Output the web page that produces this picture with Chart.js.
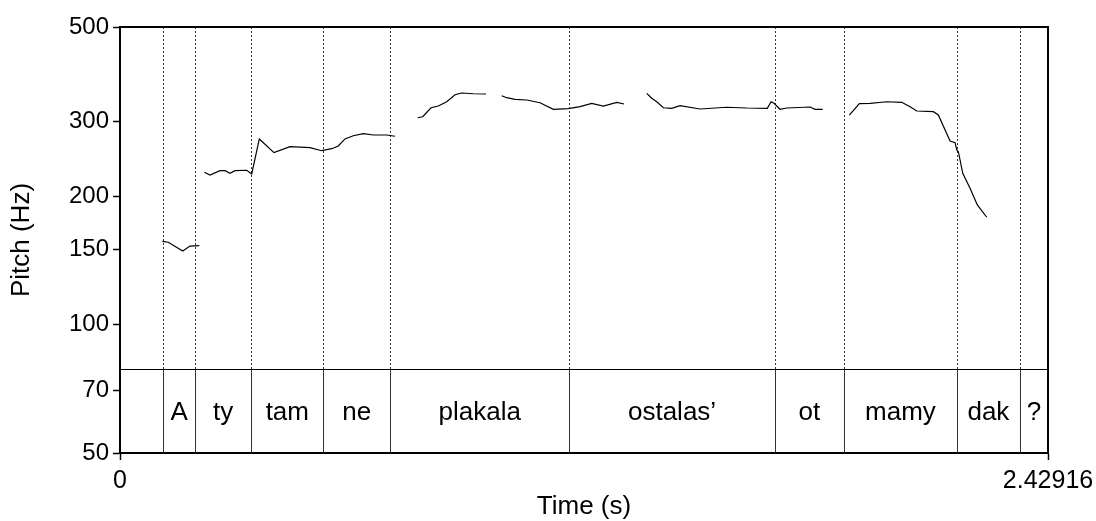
<!DOCTYPE html>
<html><head><meta charset="utf-8">
<script src="https://cdn.jsdelivr.net/npm/chart.js@4.4.1/dist/chart.umd.min.js"></script>
<style>html,body{margin:0;padding:0;background:#fff;overflow:hidden}</style>
</head><body>
<canvas id="c" width="1096" height="521"></canvas>
<script>
// ---- data ----
const X_MAX = 2.42916;
const yTicks = [50, 70, 100, 150, 200, 300, 500];
const xTicks = [0, 2.42916];
const boundaries = [0.1134, 0.1963, 0.3437, 0.5322, 0.7068, 1.1762, 1.7139, 1.8953, 2.1903, 2.3560];
const words = ['', 'A', 'ty', 'tam', 'ne', 'plakala', 'ostalas’', 'ot', 'mamy', 'dak', '?'];

const c1Time = [0.1107, 0.1264, 0.1641, 0.1832, 0.2076];
const c1Hz   = [157.0, 156.2, 149.0, 153.0, 153.3];
const c2Time = [0.2207, 0.2356, 0.2618, 0.2749, 0.2880, 0.3010, 0.3317, 0.3448, 0.3647, 0.4031, 0.4450, 0.4974, 0.5280, 0.5542, 0.5715, 0.5890, 0.6107, 0.6369, 0.6631, 0.6982, 0.7199];
const c2Hz   = [228.0, 224.7, 230.0, 230.0, 226.7, 230.0, 230.5, 225.9, 273.0, 253.5, 261.8, 260.4, 256.2, 259.0, 262.8, 273.0, 277.8, 280.9, 278.9, 278.9, 277.0];
const c3Time = [0.7793, 0.7924, 0.8141, 0.8332, 0.8552, 0.8770, 0.8945, 0.9249, 0.9581];
const c3Hz   = [306.2, 307.8, 323.2, 326.2, 333.8, 346.8, 350.0, 348.6, 348.1];
const c4Time = [0.9992, 1.0123, 1.0340, 1.0647, 1.0995, 1.1343, 1.1736, 1.2042, 1.2348, 1.2652, 1.3003, 1.3194];
const c4Hz   = [344.9, 341.2, 338.2, 337.0, 332.1, 320.5, 321.5, 325.0, 331.0, 326.2, 332.8, 329.8];
const c5Time = [1.3788, 1.3919, 1.4050, 1.4223, 1.4442, 1.4660, 1.5183, 1.5882, 1.6406, 1.6945, 1.7042, 1.7120, 1.7277, 1.7453, 1.8063, 1.8194, 1.8395];
const c5Hz   = [349.4, 340.1, 333.8, 323.2, 322.2, 326.7, 321.0, 324.0, 322.7, 322.2, 333.8, 331.0, 320.5, 322.7, 324.5, 320.5, 320.5];
const c6Time = [1.9092, 1.9353, 1.9634, 2.0071, 2.0463, 2.0681, 2.0856, 2.1291, 2.1421, 2.1728, 2.1859, 2.1903, 2.1945, 2.2060, 2.2251, 2.2442, 2.2688];
const c6Hz   = [310.7, 330.4, 331.0, 333.8, 332.8, 325.0, 317.5, 316.4, 310.7, 270.0, 267.5, 257.2, 254.8, 226.7, 209.1, 191.1, 178.8];

const contours = [[c1Time, c1Hz], [c2Time, c2Hz], [c3Time, c3Hz], [c4Time, c4Hz], [c5Time, c5Hz], [c6Time, c6Hz]];

// ---- style ----
const FONT = '"Liberation Sans", Arial, Helvetica, sans-serif';
const TIER_FRAC = 84 / 426;

const datasets = contours.map(([t, h]) => ({
  data: t.map((v, i) => ({x: v, y: h[i]})),
  borderColor: '#000', borderWidth: 1.2, pointRadius: 0, tension: 0, fill: false
}));

const praatPlugin = {
  id: 'praat',
  beforeDatasetsDraw(chart) {
    const {ctx, chartArea: a, scales: {x}} = chart;
    const tierTop = Math.round(a.bottom - TIER_FRAC * (a.bottom - a.top)) + 0.5;
    ctx.save();
    ctx.lineWidth = 1;
    ctx.strokeStyle = '#333';
    ctx.setLineDash([2, 2]);
    boundaries.forEach(b => {
      const px = Math.round(x.getPixelForValue(b)) + 0.5;
      ctx.beginPath(); ctx.moveTo(px, a.top); ctx.lineTo(px, tierTop); ctx.stroke();
    });
    ctx.setLineDash([]);
    ctx.strokeStyle = '#000';
    ctx.beginPath(); ctx.moveTo(a.left, tierTop); ctx.lineTo(a.right, tierTop); ctx.stroke();
    ctx.strokeStyle = '#333';
    boundaries.forEach(b => {
      const px = Math.round(x.getPixelForValue(b)) + 0.5;
      ctx.beginPath(); ctx.moveTo(px, tierTop); ctx.lineTo(px, a.bottom); ctx.stroke();
    });
    ctx.fillStyle = '#000';
    ctx.font = '26px ' + FONT;
    ctx.textAlign = 'center';
    ctx.textBaseline = 'alphabetic';
    const edges = [0, ...boundaries, X_MAX];
    const midY = (tierTop + a.bottom) / 2;
    words.forEach((w, i) => {
      if (!w) return;
      const cx = (x.getPixelForValue(edges[i]) + x.getPixelForValue(edges[i + 1])) / 2;
      ctx.fillText(w, cx, midY + 9);
    });
    ctx.restore();
  },
  afterDraw(chart) {
    const {ctx, chartArea: a} = chart;
    ctx.save();
    ctx.strokeStyle = '#000';
    ctx.lineWidth = 2;
    ctx.beginPath();
    ctx.moveTo(a.left - 1, a.top); ctx.lineTo(a.right, a.top); ctx.lineTo(a.right, a.bottom + 1);
    ctx.stroke();
    ctx.restore();
  }
};

new Chart(document.getElementById('c'), {
  type: 'line',
  data: {datasets},
  plugins: [praatPlugin],
  options: {
    responsive: false, animation: false, devicePixelRatio: 1,
    layout: {padding: {top: 27, right: 48, left: 0, bottom: 0}},
    plugins: {legend: {display: false}, tooltip: {enabled: false}},
    scales: {
      x: {
        type: 'linear', min: 0, max: X_MAX,
        afterBuildTicks: s => { s.ticks = xTicks.map(v => ({value: v})); },
        afterFit: s => { s.height = 68; s.paddingLeft = 0; s.paddingRight = 0; },
        ticks: {autoSkip: false, maxRotation: 0, color: '#000', padding: 6,
          font: {size: 25, family: FONT}, callback: v => String(v)},
        grid: {drawOnChartArea: false, drawTicks: true, tickLength: 7, tickColor: '#000', tickWidth: 1.5},
        border: {display: true, color: '#000', width: 2},
        title: {display: true, text: 'Time (s)', color: '#000', font: {size: 26, family: FONT, lineHeight: 1.1}, padding: {top: 0, bottom: 0}}
      },
      y: {
        type: 'logarithmic', min: 50, max: 500,
        afterBuildTicks: s => { s.ticks = yTicks.map(v => ({value: v})); },
        afterFit: s => { s.width = 120; s.paddingTop = 0; s.paddingBottom = 0; },
        ticks: {autoSkip: false, color: '#000', padding: 4,
          font: {size: 24, family: FONT}, callback: v => String(v)},
        grid: {drawOnChartArea: false, drawTicks: true, tickLength: 7, tickColor: '#000', tickWidth: 1.5},
        border: {display: true, color: '#000', width: 2},
        title: {display: true, text: 'Pitch (Hz)', color: '#000', font: {size: 26, family: FONT, lineHeight: 1.1}, padding: {top: 8, bottom: 0}}
      }
    }
  }
});
</script>
</body></html>
